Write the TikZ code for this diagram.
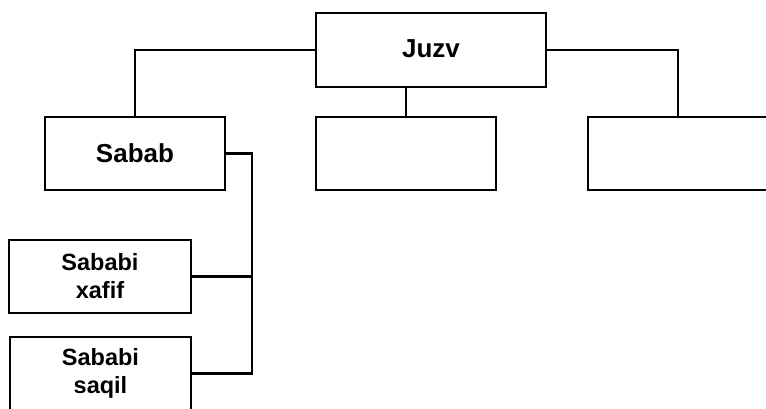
\documentclass[tikz,border=0pt]{standalone}
\usepackage{fontspec}
\setmainfont{Liberation Sans}
\begin{document}
\begin{tikzpicture}[x=1pt,y=-1pt,
  box/.style={draw, line width=2.9pt, minimum width=180pt, minimum height=73pt, inner sep=0pt, align=center},
  bigtxt/.style={font=\bfseries\fontsize{26}{30}\selectfont},
  smalltxt/.style={font=\bfseries\fontsize{23.5}{28}\selectfont},
  conn/.style={line width=2.9pt}]
\useasboundingbox (0,0) rectangle (766,409);
\clip (0,0) rectangle (766,409);
\fill[white] (0,0) rectangle (766,409);
\node[box, bigtxt, minimum width=230pt, minimum height=74pt] (juzv) at (431,50) {\raisebox{3pt}{Juzv}};
\node[box, bigtxt] (sabab) at (135,153.5) {Sabab};
\node[box] (mid) at (406,153.5) {};
\node[box] (right) at (678,153.5) {};
\node[box, smalltxt, minimum width=182pt] (xafif) at (100,276.5) {Sababi\\xafif};
\node[box, smalltxt, minimum width=181pt] (saqil) at (100.5,373.5) {Sababi\\saqil};
\coordinate (bus) at (252,0);
\draw[conn] (juzv.west) -| (sabab.north);
\draw[conn] (juzv.east) -| (right.north);
\draw[conn] (mid.north) -- (mid.north |- juzv.south);
\draw[conn] (sabab.east) -| (bus |- saqil.east) -- (saqil.east);
\draw[conn] (xafif.east) -- (xafif.east -| bus);
\end{tikzpicture}
\end{document}
